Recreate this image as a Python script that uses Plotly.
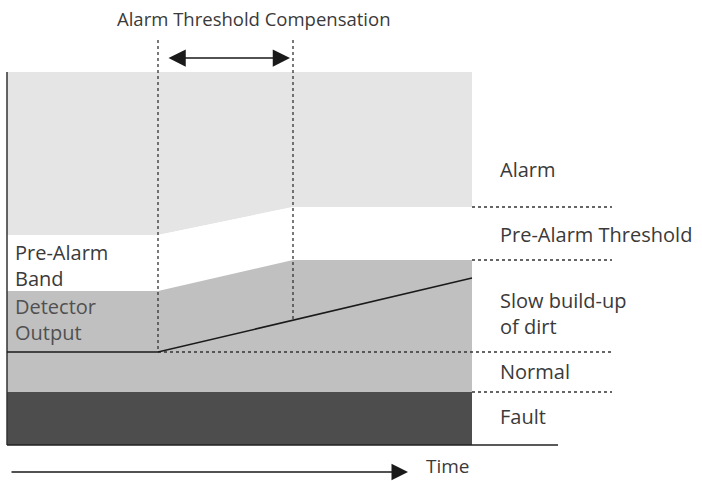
import plotly.graph_objects as go

# time axis (left edge, compensation start, compensation end, right edge)
times = [7, 158, 293, 472]

# band boundaries (top of plot is level 0, values grow downward like the drawing)
alarm_top = [72, 72, 72, 72]
pre_alarm_top = [235, 235, 207, 207]
pre_alarm_bottom = [291, 291, 260, 260]
fault_top = [392, 392, 392, 392]
fault_bottom = [445, 445, 445, 445]

# detector output trace
det_times = [7, 158, 472]
det_level = [352, 352, 278]

# threshold levels marked on the right
threshold_levels = [207, 260, 352, 392]

right_labels = ["Alarm", "Pre-Alarm Threshold", "Slow build-up<br>of dirt", "Normal", "Fault"]
right_label_y = [169, 234, 313, 371, 416]
left_labels = ["Pre-Alarm<br>Band", "Detector<br>Output"]
left_label_y = [265, 319]

FONT = "Open Sans"
TXT = "#3a3a3a"
FS = 20

fig = go.Figure()

bands = [
    (alarm_top, None),
    (pre_alarm_top, "#e5e5e5"),
    (pre_alarm_bottom, "#ffffff"),
    (fault_top, "#c0c0c0"),
    (fault_bottom, "#4d4d4d"),
]
for ys, color in bands:
    fig.add_trace(go.Scatter(
        x=times, y=ys, mode="lines", line=dict(width=0),
        fill="tonexty" if color else None, fillcolor=color,
        hoverinfo="skip", showlegend=False,
    ))

# left edge and baseline
fig.add_trace(go.Scatter(x=[7, 7], y=[72, 445], mode="lines",
                         line=dict(color="#333333", width=1.5), showlegend=False))
fig.add_trace(go.Scatter(x=[7, 558], y=[445, 445], mode="lines",
                         line=dict(color="#222222", width=1.5), showlegend=False))

# dotted compensation markers
dot = dict(color="#333333", width=1.3, dash="dot")
fig.add_trace(go.Scatter(x=[158, 158], y=[40, 352], mode="lines", line=dot, showlegend=False))
fig.add_trace(go.Scatter(x=[293, 293], y=[40, 320], mode="lines", line=dot, showlegend=False))
fig.add_trace(go.Scatter(x=[158, 612], y=[352, 352], mode="lines", line=dot, showlegend=False))
for lvl in threshold_levels[:2] + threshold_levels[3:]:
    fig.add_trace(go.Scatter(x=[472, 612], y=[lvl, lvl], mode="lines", line=dot, showlegend=False))

# detector output line
fig.add_trace(go.Scatter(x=det_times, y=det_level, mode="lines",
                         line=dict(color="#1a1a1a", width=1.5), showlegend=False))

# double arrow for compensation
fig.add_annotation(x=290, y=58, ax=167, ay=58, xref="x", yref="y", axref="x", ayref="y",
                   text="", showarrow=True, arrowhead=2, arrowside="end+start",
                   arrowsize=2.3, arrowwidth=1.5, arrowcolor="#1a1a1a")
# time arrow
fig.add_annotation(x=408, y=472, ax=10, ay=472, xref="x", yref="y", axref="x", ayref="y",
                   text="", showarrow=True, arrowhead=2, arrowsize=2.2,
                   arrowwidth=1.5, arrowcolor="#1a1a1a")

fig.add_annotation(x=254, y=18, text="Alarm Threshold Compensation", showarrow=False,
                   font=dict(family=FONT, size=18.5, color=TXT))
fig.add_annotation(x=424, y=466, text="Time", showarrow=False, xanchor="left",
                   font=dict(family=FONT, size=19, color=TXT))

for txt, yv in zip(right_labels, right_label_y):
    fig.add_annotation(x=498, y=yv, text=txt, showarrow=False, xanchor="left", align="left",
                       font=dict(family=FONT, size=FS, color=TXT))
for txt, yv, col in zip(left_labels, left_label_y, [TXT, "#505050"]):
    fig.add_annotation(x=13, y=yv, text=txt, showarrow=False, xanchor="left", align="left",
                       font=dict(family=FONT, size=FS, color=col))

fig.update_xaxes(range=[0, 702], visible=False)
fig.update_yaxes(range=[481, 0], visible=False)
fig.update_layout(width=702, height=481, margin=dict(l=0, r=0, t=0, b=0),
                  plot_bgcolor="white", paper_bgcolor="white")

fig.write_html("out.html", config={"displayModeBar": False},
               post_script="document.body.style.margin='0';")
